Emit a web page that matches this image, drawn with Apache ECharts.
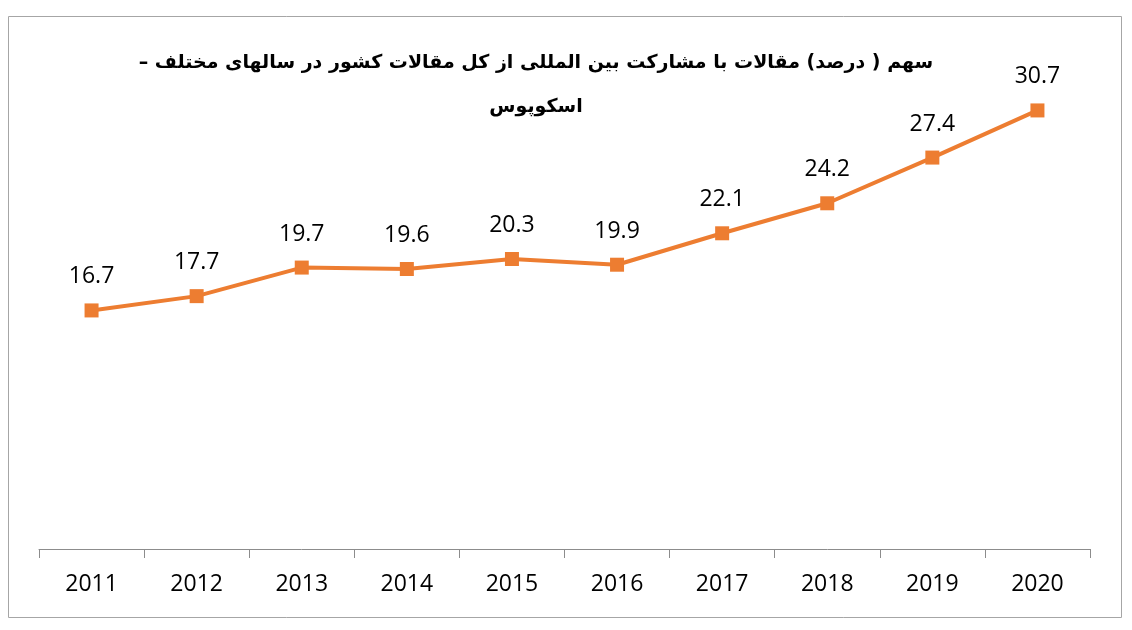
<!DOCTYPE html>
<html>
<head>
<meta charset="utf-8">
<script src="https://cdn.jsdelivr.net/npm/echarts@6/dist/echarts.min.js"></script>
<style>
html, body { margin: 0; padding: 0; background: #fff; }
#chart { width: 1132px; height: 630px; direction: rtl; }
</style>
</head>
<body>
<div id="chart"></div>
<script>
var years = ['2011', '2012', '2013', '2014', '2015', '2016', '2017', '2018', '2019', '2020'];
var shares = [16.7, 17.7, 19.7, 19.6, 20.3, 19.9, 22.1, 24.2, 27.4, 30.7];
var titleLines = [
    'سهم ( درصد) مقالات با مشارکت بین المللی از کل مقالات کشور در سالهای مختلف –',
    'اسکوپوس'
];

var option = {
    backgroundColor: '#fff',
    animation: false,
    title: {
        text: titleLines.join('\n'),
        left: 531,
        top: 36,
        textAlign: 'center',
        textStyle: {
            fontFamily: 'DejaVu Sans',
            fontWeight: 'bold',
            fontSize: 19,
            lineHeight: 44,
            color: '#000'
        }
    },
    graphic: [{
        type: 'rect',
        shape: { x: 8.5, y: 16.5, width: 1113, height: 601 },
        style: { fill: 'none', stroke: '#a6a6a6', lineWidth: 1 },
        silent: true
    }],
    grid: {
        left: 39,
        right: 42,
        top: 49,
        bottom: 81
    },
    xAxis: {
        type: 'category',
        data: years,
        boundaryGap: true,
        axisLine: { lineStyle: { color: '#8c8c8c', width: 1 } },
        axisTick: { show: true, length: 9, alignWithLabel: false, lineStyle: { color: '#8c8c8c' } },
        axisLabel: {
            margin: 24,
            fontFamily: 'Open Sans',
            fontSize: 23,
            color: '#000'
        }
    },
    yAxis: {
        type: 'value',
        min: 0,
        max: 35,
        show: false
    },
    series: [{
        type: 'line',
        data: shares,
        symbol: 'rect',
        symbolSize: 14,
        itemStyle: { color: '#ED7D31' },
        lineStyle: { color: '#ED7D31', width: 4 },
        label: {
            show: true,
            position: 'top',
            distance: 15,
            fontFamily: 'Open Sans',
            fontSize: 23,
            color: '#000'
        }
    }]
};

var myChart = echarts.init(document.getElementById('chart'));
myChart.setOption(option);
</script>
</body>
</html>
